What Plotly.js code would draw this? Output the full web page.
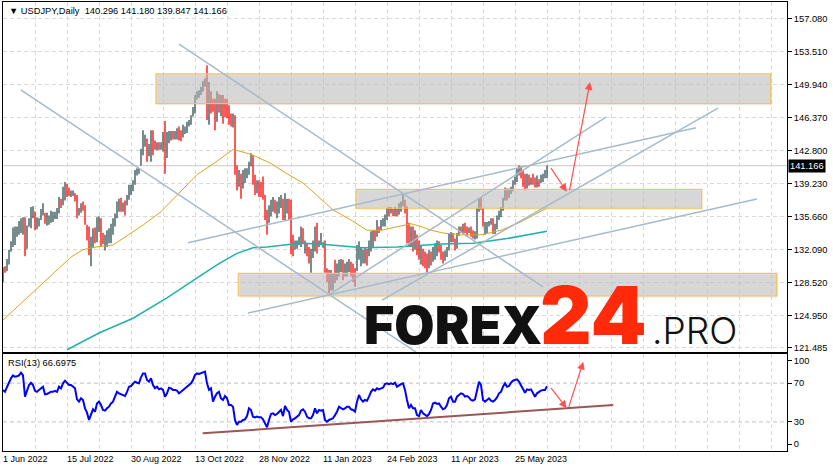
<!DOCTYPE html>
<html><head><meta charset="utf-8">
<script src="https://cdn.plot.ly/plotly-3.0.1.min.js"></script>
<style>html,body{margin:0;padding:0;background:#fff;}#chart{width:833px;height:472px;}</style>
</head><body><div id="chart"></div>
<script>
// ---- data (one daily bar per weekday from 1 Jun 2022) ----
const open = [
128.7,130.0,129.8,130.9,131.9,132.6,134.0,134.0,134.3,134.5,
134.4,135.4,132.2,134.6,135.0,136.2,136.2,134.9,135.2,135.4,
136.1,136.0,135.2,135.1,135.6,135.4,135.5,135.6,136.2,137.4,
137.0,137.5,139.0,138.5,138.0,138.1,138.2,137.9,135.9,136.3,
137.0,136.6,134.7,134.4,131.6,132.6,134.4,133.0,134.5,135.0,
133.8,132.4,133.3,133.2,133.4,134.0,135.0,135.6,136.5,137.6,
136.6,137.2,136.9,137.6,138.6,138.5,139.2,140.2,140.3,141.2,
142.8,143.5,144.0,142.3,142.6,144.6,143.6,143.0,143.6,143.1,
143.2,144.5,142.4,143.9,144.5,144.8,144.3,144.5,145.3,144.9,
144.3,144.8,144.9,145.5,145.8,146.5,147.0,148.4,148.6,149.0,
149.2,149.8,150.2,146.9,149.0,148.2,147.4,146.2,148.8,147.6,
148.6,148.0,148.0,147.4,146.6,145.6,146.4,141.0,138.9,140.0,
139.3,139.5,140.2,140.4,141.3,142.1,139.5,138.6,139.2,139.0,
139.6,138.0,135.4,135.0,136.0,136.6,137.4,135.9,136.5,136.8,
137.5,135.4,136.3,137.3,137.0,133.0,132.3,132.4,132.8,133.2,
134.4,132.4,132.8,131.5,130.5,131.9,132.4,134.0,132.5,132.7,
132.5,132.6,129.9,128.9,128.0,128.0,130.5,128.9,129.6,130.0,
130.6,129.3,129.8,130.0,130.6,129.9,129.5,129.9,131.2,130.9,
131.0,131.1,131.9,131.6,132.2,133.0,134.1,133.8,134.5,134.3,
134.8,134.9,135.4,136.5,136.1,136.4,135.9,136.4,135.9,136.6,
137.0,137.3,136.2,134.6,132.9,134.2,132.8,133.7,131.9,131.0,
132.1,131.5,130.9,130.6,131.4,130.9,131.6,132.0,132.8,132.5,
131.7,131.3,131.8,132.2,133.6,133.7,133.1,132.6,133.8,134.5,
134.1,134.7,134.2,134.1,134.3,133.7,133.6,133.9,136.3,137.5,
136.5,133.9,134.3,134.8,135.1,135.2,134.3,134.5,135.7,136.1,
136.4,137.6,138.7,137.9,138.6,138.6,139.5,139.9,140.3,140.8,
140.0,139.3,138.8,139.9,139.3,140.1,139.6,139.0,139.5,139.3,
139.6,140.1,140.296];
const high = [
130.2,130.3,131.1,132.1,133.0,134.5,134.6,134.6,135.2,135.5,
135.6,135.6,134.7,135.5,136.7,136.8,136.2,135.6,135.5,136.5,
137.1,136.1,136.1,135.8,136.3,136.2,136.2,136.6,137.8,137.6,
138.9,139.4,139.2,138.8,138.5,138.5,138.2,138.0,136.6,137.1,
137.3,136.9,134.8,134.6,133.5,134.4,134.5,135.6,135.7,135.5,
133.9,133.7,134.2,134.4,134.9,135.5,136.0,137.3,137.6,137.7,
137.2,137.4,138.0,139.1,139.1,139.6,140.7,140.9,140.9,143.0,
145.0,144.5,144.1,143.5,145.0,145.0,143.9,143.7,143.7,143.7,
144.8,146.0,144.8,144.9,144.9,144.9,144.9,145.2,145.4,145.0,
145.6,145.4,145.9,146.1,146.6,147.5,148.8,149.2,149.3,149.7,
150.3,150.6,152.0,150.2,149.2,148.4,148.4,149.2,148.9,148.8,
148.8,148.4,148.4,147.7,146.8,146.8,146.6,141.2,140.7,140.3,
140.7,140.9,140.9,141.6,142.5,142.3,140.2,139.6,139.6,139.4,
140.0,138.0,136.4,136.9,137.5,137.8,137.5,137.3,137.8,138.0,
137.6,138.2,137.6,137.6,137.5,133.7,133.1,133.1,133.5,134.6,
134.4,133.1,132.8,132.4,132.2,133.1,134.6,135.0,133.1,133.9,
132.9,133.1,130.1,129.9,129.9,129.5,131.0,130.6,131.0,131.1,
131.0,130.6,130.8,131.1,130.8,130.6,130.1,132.6,133.0,132.4,
132.1,132.4,132.2,133.1,134.1,134.2,134.2,135.3,134.6,135.3,
135.5,135.9,136.6,136.7,136.7,136.5,136.7,136.5,137.1,137.3,
138.0,137.5,136.8,135.0,134.6,134.6,134.2,133.7,133.1,132.6,
132.2,131.9,131.7,132.1,131.9,132.4,132.8,133.1,133.0,132.6,
131.9,132.0,132.4,133.8,134.0,133.9,133.3,133.9,134.6,134.6,
134.9,135.0,134.6,134.5,134.6,134.2,134.1,136.6,137.6,137.8,
136.6,135.1,135.1,135.2,135.5,135.5,134.9,135.8,136.3,136.7,
137.7,138.8,138.7,138.7,138.9,139.6,140.0,140.9,141.2,141.1,
140.7,140.3,140.3,140.2,139.9,140.3,139.9,140.1,139.7,140.2,
140.3,140.7,141.180];
const low = [
128.6,129.6,129.8,130.5,131.9,132.4,132.6,133.5,133.7,133.9,
133.7,131.4,132.2,134.6,134.4,135.5,134.2,134.3,134.6,135.3,
135.8,134.9,134.7,134.8,135.0,135.1,135.4,135.4,136.0,136.6,
136.9,137.4,137.8,137.9,137.8,137.9,137.3,135.5,135.8,136.1,
136.3,134.8,133.1,131.5,130.3,132.3,132.8,132.9,134.0,132.4,
132.7,132.0,132.4,132.8,132.8,133.7,134.6,135.5,136.2,136.2,
136.2,135.8,136.9,137.5,138.0,138.4,139.1,140.1,140.3,141.2,
142.3,143.2,141.6,142.2,141.6,142.3,142.9,142.8,142.9,142.9,
142.7,140.3,142.0,143.6,143.9,144.0,144.0,144.0,143.9,143.8,
144.2,144.6,144.7,145.4,145.6,146.5,146.8,148.3,148.5,148.8,
149.2,149.7,146.1,145.6,146.8,147.0,145.0,145.9,146.9,146.5,
145.7,146.4,146.3,145.6,145.4,145.3,140.2,138.5,138.9,137.6,
138.7,139.3,139.8,140.2,141.1,139.1,138.0,138.2,137.8,137.8,
137.5,135.3,133.7,135.0,135.7,136.2,136.0,135.5,136.0,136.6,
135.3,135.3,136.0,135.3,131.6,131.4,132.1,132.2,132.6,132.4,
132.8,131.7,131.4,130.6,129.6,131.2,131.9,131.7,132.4,132.6,
132.3,129.6,128.6,127.4,127.7,127.7,128.5,128.8,129.2,129.7,
128.8,129.2,129.2,129.7,129.2,128.6,128.1,129.8,131.0,130.3,
130.6,130.6,130.4,131.4,131.9,132.4,133.0,133.5,133.9,134.2,
134.6,134.6,135.3,135.7,136.0,135.7,135.7,135.7,135.9,136.2,
136.8,136.0,132.8,132.4,132.4,131.9,132.1,131.5,131.0,130.5,
130.3,130.1,129.6,130.1,130.4,130.8,131.0,131.4,131.8,131.0,
130.6,130.9,131.3,132.0,132.9,132.9,132.0,132.2,133.6,133.9,
133.8,133.9,133.6,133.9,133.5,133.3,133.2,133.3,136.2,136.4,
134.6,133.7,133.9,134.6,134.8,133.8,133.8,134.3,135.3,135.6,
136.3,137.4,137.4,137.7,138.1,138.4,139.1,139.4,140.1,139.8,
138.9,138.5,138.7,139.0,139.1,139.1,138.8,138.8,138.9,139.3,
139.4,139.8,139.847];
const close = [
130.0,129.8,130.9,131.9,132.6,134.2,134.3,134.4,134.6,135.3,
135.4,132.2,134.6,135.2,136.6,136.3,134.9,135.2,135.4,136.1,
136.6,135.2,135.7,135.6,136.1,136.0,135.9,136.4,137.4,136.9,
138.7,138.9,138.3,138.1,138.3,138.2,137.4,136.0,136.5,136.9,
136.5,135.0,133.3,131.6,133.2,133.8,133.0,135.0,135.1,132.9,
133.0,133.4,134.1,134.2,134.7,135.3,135.9,137.0,137.5,136.6,
137.1,136.6,137.8,138.8,138.9,139.3,140.3,140.4,140.6,142.8,
144.2,144.0,142.6,143.2,144.6,143.2,143.1,143.6,143.1,143.5,
144.4,142.4,144.0,144.7,144.7,144.3,144.7,145.0,144.2,144.1,
145.4,145.1,145.8,146.0,146.4,147.2,148.6,149.0,149.2,149.6,
150.1,150.2,147.6,149.0,148.0,147.2,145.6,148.7,147.6,148.6,
147.2,146.8,146.6,146.6,145.6,146.4,141.0,138.8,139.9,139.3,
139.5,140.2,140.4,141.3,142.1,139.5,138.6,139.2,138.4,138.1,
138.0,135.5,134.3,136.7,137.1,137.4,136.4,136.9,137.5,137.7,
135.6,137.8,137.2,136.0,131.8,132.4,132.6,132.9,133.4,134.4,
133.1,132.9,131.5,130.9,131.9,132.5,134.0,132.1,132.9,133.3,
132.6,129.9,128.9,127.9,129.2,128.9,128.9,130.3,130.6,130.5,
129.3,130.2,130.4,130.7,129.5,128.9,128.7,131.9,132.6,131.9,
131.6,131.9,131.2,132.6,133.6,134.0,133.4,134.8,134.0,135.0,
135.2,135.6,136.4,136.0,136.5,135.9,136.5,135.8,136.9,137.1,
137.4,136.3,133.5,133.2,134.2,133.4,133.7,131.9,131.3,132.4,
131.4,130.9,130.7,131.5,130.9,132.2,132.7,132.9,132.5,131.7,
131.3,131.8,132.2,133.6,133.7,133.1,132.6,133.8,134.5,134.1,
134.7,134.2,134.1,134.3,133.7,133.6,133.9,136.3,137.5,136.5,
134.7,134.6,134.8,135.1,135.2,134.3,134.5,135.7,136.1,136.4,
137.6,138.7,137.9,138.6,138.7,139.5,139.9,140.6,140.8,140.0,
139.3,138.8,139.9,139.6,139.7,139.3,139.0,139.4,139.2,140.0,
140.1,140.3,141.166];
const rsi13 = [
62.9,61,66,71.5,75,78,76.6,77,78,80.8,
78,56,63,68,70.4,68,62,61,63,64.6,
66.3,58.4,58.8,60,61,61,62,61,66.3,64.6,
69.8,72.5,69.8,68,68,66.3,64.6,53.3,50.9,54.3,
52.6,44,39.5,32,37,43,40.5,49,50.9,47.4,
42.3,41.6,44,45.7,49,50.9,56,61,59.5,58.8,
57.7,56.7,61,66.3,67,69.8,71.5,70.4,69.8,76,
80,80,73.2,71.5,75,68,64.6,66.3,63.6,64.6,
63,56,59.5,65.3,64.6,63,63,62.2,59.5,61,
63,64.6,66.3,68,69.8,73.2,78.4,80,79.4,80,
81,81.8,69.8,63,64.6,50.9,56,59.5,61,54.3,
52.6,56.7,54.3,47.4,47.4,45.7,32,26.8,30.2,30.2,
32,32.6,36,44,42.3,35.4,34.7,35.4,34.7,34.7,
32.6,28.5,24.4,32,38.1,38.8,37,38.1,40.5,42.3,
36,46.4,42.3,40.5,30.2,32.6,33.7,35.4,37,41.6,
43,40.5,35.4,33.7,33.7,37,44,38.8,42.3,41.6,
42.3,32,30.2,32,32.6,33.7,37,40.5,45.7,44,
43,44,45.7,45.7,43,42.3,40.5,50.9,57.7,53.3,
50.9,52.6,51.9,56,61,63.6,62.2,64.6,63.6,64.6,
65.3,69,69.8,69,69.8,69,70.4,66.3,68,69,
69.8,63,52.6,44,47.4,44,44,37,36,42.3,
38.8,37,36,38.1,42.3,49,49.8,48.5,49,45.7,
43,44,47.4,54.3,56,50.9,50.9,56,57.7,59.5,
58.8,56,56.7,55.3,52.6,51.9,53.3,63,71.5,68,
52.6,50.9,52.6,54.3,51.9,50.9,52.6,55.3,59.5,61,
66.3,69.8,66.3,67,70.4,72.5,73.2,73.9,71.5,68,
63,60,63.6,63,63.6,59.5,56,59.5,61,62.2,
63,63,66.6975];

// moving averages at sample bars
const maFastBars = [0,11,24,34,40,47,55,60,70,79,87,97,104,110,115,119,125,134,142,150,159,165,174,182,189,197,204,209,214,220,229,239,249,259,269,272];
const maFast     = [124.5,126.7,129.3,131.3,132.1,132.4,132.6,133.3,134.75,136.2,138.0,140.2,141.2,142.1,142.9,142.7,142.3,141.4,140.3,139.3,137.6,136.4,135.3,134.2,134.2,134.55,134.9,134.6,134.2,133.9,133.7,133.7,134.2,135.1,136.2,136.6];
const maSlowBars = [32,48,65,82,98,108,117,125,132,142,148,158,164,180,197,219,235,252,272];
const maSlow     = [121.3,123.1,124.7,126.9,129.2,130.6,131.7,132.3,132.4,132.7,132.8,132.7,132.6,132.3,132.4,132.7,132.8,133.3,134.1];

// axis labels
const priceTicks = [157.08,153.51,149.94,146.37,142.8,139.23,135.66,132.09,128.52,124.95,121.485];
const priceTickText = ['157.080','153.510','149.940','146.370','142.800','139.230','135.660','132.090','128.520','124.950','121.485'];
const dateLabels = ['1 Jun 2022','15 Jul 2022','30 Aug 2022','13 Oct 2022','28 Nov 2022','11 Jan 2023','24 Feb 2023','11 Apr 2023','25 May 2023'];
const dateLabelBars = [0,32,64,96,128,160,192,224,256];
const rsiLevels = [70,30];
const rsiTickText = ['100','70','30','0'];

// ---- drawing ----
const bars = close.map((_, i) => i);
const gridBars = [];
for (let b = 0; b <= 392; b += 16) gridBars.push(b);
const lastClose = close[close.length - 1];

const FONT = 'Liberation Sans, Arial, sans-serif';
const GRID = '#d9d9d9';
const TL = '#a6bac8';

const traces = [
  {type:'ohlc', x:bars, open:open, high:high, low:low, close:close, xaxis:'x', yaxis:'y',
   increasing:{line:{color:'#2f4f4f', width:1.3}}, decreasing:{line:{color:'#ff0000', width:1.3}},
   tickwidth:0.2, hoverinfo:'skip', showlegend:false},
  {type:'scatter', mode:'lines', x:maFastBars, y:maFast, xaxis:'x', yaxis:'y',
   line:{color:'#daa520', width:1}, hoverinfo:'skip'},
  {type:'scatter', mode:'lines', x:maSlowBars, y:maSlow, xaxis:'x', yaxis:'y',
   line:{color:'#20b2aa', width:1.5}, hoverinfo:'skip'},
  {type:'scatter', mode:'lines', x:bars, y:rsi13, xaxis:'x2', yaxis:'y2',
   line:{color:'#0000ff', width:2}, hoverinfo:'skip'}
];

const shapes = [];
// last price line
shapes.push({type:'line', xref:'x', yref:'y', x0:0, x1:392, y0:lastClose, y1:lastClose, line:{color:'#c8c8c8', width:1}, layer:'below'});
// rsi levels
rsiLevels.forEach(v => shapes.push({type:'line', xref:'x2', yref:'y2', x0:0, x1:392, y0:v, y1:v, line:{color:'#c0c0c0', width:1, dash:'4px,3px'}, layer:'below'}));
// zones
const zones = [[76.5,383.85,147.87,151.07],[176.5,349.35,136.57,138.62],[117.65,386.85,127.10,129.55]];
zones.forEach(z => {
  shapes.push({type:'rect', xref:'x', yref:'y', x0:z[0]+0.8, x1:z[1]+0.8, y0:z[2]-0.18, y1:z[3]-0.18, fillcolor:'rgba(0,0,0,0.06)', line:{width:0}});
  shapes.push({type:'rect', xref:'x', yref:'y', x0:z[0], x1:z[1], y0:z[2], y1:z[3], fillcolor:'rgba(195,195,195,0.55)', line:{color:'#f3c262', width:1.2}});
});
// trend lines
const tlines = [
  [8.85,149.34,206.5,121.05],
  [88,154.30,270,128.09],
  [92.5,132.85,346.5,145.27],
  [122.5,125.26,377,137.57],
  [163.5,127.30,301.5,146.42],
  [189.5,126.66,357.5,147.39]
];
tlines.forEach(t => shapes.push({type:'line', xref:'x', yref:'y', x0:t[0], y0:t[1], x1:t[2], y1:t[3], line:{color:TL, width:1.5}}));
// RSI support line
shapes.push({type:'line', xref:'x2', yref:'y2', x0:99.85, y0:18.2, x1:305.15, y1:47.4, line:{color:'#9b5656', width:2}});

const annotations = [];
annotations.push({xref:'paper', yref:'paper', x:0.0045, y:0.9806, xanchor:'left', yanchor:'middle', showarrow:false,
  text:'\u25BC USDJPY,Daily\u00a0\u00a0140.296 141.180 139.847 141.166', font:{family:FONT, size:9.3, color:'#000'}});
annotations.push({xref:'paper', yref:'paper', x:0.004, y:0.1967, xanchor:'left', yanchor:'middle', showarrow:false,
  text:'RSI(13) 66.6975', font:{family:FONT, size:9.3, color:'#000'}});
annotations.push({xref:'paper', yref:'y', x:1, y:lastClose, xanchor:'left', yanchor:'middle', xshift:1, showarrow:false,
  text:lastClose.toFixed(3), bgcolor:'#000', borderpad:1, font:{family:FONT, size:9.3, color:'#fff'}});
dateLabels.forEach((t, k) => annotations.push({xref:'x2', yref:'paper', x:dateLabelBars[k], y:0, xanchor:'left', yanchor:'top',
  xshift:-2, yshift:-1, showarrow:false, text:t, font:{family:FONT, size:9, color:'#000'}}));
// watermark
annotations.push({xref:'paper', yref:'paper', x:0.4579, y:0.2795, xanchor:'left', yanchor:'middle', showarrow:false,
  text:'FOREX', font:{family:'Inter, Open Sans, sans-serif', size:52, weight:900, color:'#111'}});
annotations.push({xref:'paper', yref:'paper', x:0.6824, y:0.3029, xanchor:'left', yanchor:'middle', showarrow:false,
  text:'24', font:{family:'Inter, Open Sans, sans-serif', size:80, weight:900, color:'#ff2a0a'}});
annotations.push({xref:'paper', yref:'paper', x:0.8253, y:0.2684, xanchor:'left', yanchor:'middle', showarrow:false,
  text:'.PRO', font:{family:'Inter, Open Sans, sans-serif', size:37, weight:300, color:'#111'}});
// arrows
const ARROW = '#ff5050';
const arrows = [
  ['x','y',273.5,141.06,281.85,138.36],
  ['x','y',283.15,138.36,293.5,150.2],
  ['x2','y2',273.5,66.3,281.85,44.0],
  ['x2','y2',282.65,44.0,290.15,92.1]
];
arrows.forEach(a => annotations.push({xref:a[0], yref:a[1], axref:a[0], ayref:a[1], ax:a[2], ay:a[3], x:a[4], y:a[5],
  text:'', showarrow:true, arrowhead:2, arrowsize:1.3, arrowwidth:1.2, arrowcolor:ARROW, standoff:0, startstandoff:0}));

const axBase = {showline:true, mirror:true, linecolor:'#000', linewidth:1, zeroline:false, fixedrange:true};
const layout = {
  width:833, height:472, paper_bgcolor:'#fff', plot_bgcolor:'#fff',
  margin:{l:3, r:46, t:2, b:21}, showlegend:false, hovermode:false,
  font:{family:FONT, size:9, color:'#000'},
  xaxis:Object.assign({}, axBase, {domain:[0,1], range:[0,392], anchor:'y', tickvals:gridBars, showticklabels:false, ticks:'',
    showgrid:true, gridcolor:GRID, griddash:'4px,3px', gridwidth:1, rangeslider:{visible:false}}),
  yaxis:Object.assign({}, axBase, {domain:[0.2205,1], range:[121.053,158.84], anchor:'x', side:'right',
    tickvals:priceTicks, ticktext:priceTickText, ticks:'outside', ticklen:4, tickcolor:'#000',
    showgrid:true, gridcolor:GRID, griddash:'4px,3px', tickfont:{family:FONT, size:9.3, color:'#000'}}),
  xaxis2:Object.assign({}, axBase, {domain:[0,1], range:[0,392], anchor:'y2', tickvals:gridBars, showticklabels:false, ticks:'',
    showgrid:true, gridcolor:GRID, griddash:'4px,3px', gridwidth:1}),
  yaxis2:Object.assign({}, axBase, {domain:[0,0.216], range:[0,100], anchor:'x2', side:'right',
    tickvals:[93,70,30,7.2], ticktext:rsiTickText, ticks:'outside', ticklen:4, tickcolor:'#000', showgrid:false,
    tickfont:{family:FONT, size:9.3, color:'#000'}}),
  shapes:shapes, annotations:annotations
};
Plotly.newPlot('chart', traces, layout, {displayModeBar:false, staticPlot:true});
</script>
</body></html>
